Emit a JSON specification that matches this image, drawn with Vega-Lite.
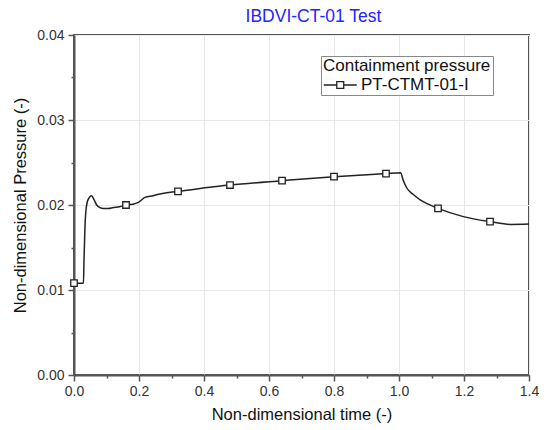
{
  "$schema": "https://vega.github.io/schema/vega-lite/v6.json",
  "width": 455,
  "height": 340,
  "autosize": "none",
  "padding": {"left": 74, "top": 35, "right": 18, "bottom": 55},
  "background": "white",
  "title": {"text": "IBDVI-CT-01 Test", "color": "#2424ff", "font": "Liberation Sans", "fontSize": 17.5, "fontWeight": "normal", "anchor": "middle", "offset": 3, "dx": 12},
  "config": {
    "view": {"stroke": "#555", "strokeWidth": 2},
    "axis": {"labelFont": "Liberation Sans", "titleFont": "Liberation Sans", "labelFontSize": 14, "titleFontSize": 16.5, "titleFontWeight": "normal", "labelColor": "#333", "titleColor": "#111", "domainColor": "#555", "domainWidth": 2, "tickColor": "#555", "tickWidth": 1.5, "gridColor": "#e8e8e8", "labelFlush": false}
  },
  "datasets": {
    "curve": [
      {"t": 0.0, "p": 0.0108}, {"t": 0.029, "p": 0.0108}, {"t": 0.0308, "p": 0.0135}, {"t": 0.0338, "p": 0.01745}, {"t": 0.0369, "p": 0.0194}, {"t": 0.043, "p": 0.0206}, {"t": 0.054, "p": 0.0211}, {"t": 0.062, "p": 0.0206}, {"t": 0.070, "p": 0.0200}, {"t": 0.080, "p": 0.0197}, {"t": 0.090, "p": 0.0196}, {"t": 0.105, "p": 0.0196}, {"t": 0.121, "p": 0.0197}, {"t": 0.14, "p": 0.0198}, {"t": 0.16, "p": 0.0200}, {"t": 0.18, "p": 0.0201}, {"t": 0.198, "p": 0.0203}, {"t": 0.208, "p": 0.0206}, {"t": 0.218, "p": 0.0209}, {"t": 0.244, "p": 0.0211}, {"t": 0.265, "p": 0.0213}, {"t": 0.32, "p": 0.0216}, {"t": 0.418, "p": 0.0221}, {"t": 0.48, "p": 0.02235}, {"t": 0.64, "p": 0.02286}, {"t": 0.80, "p": 0.02333}, {"t": 0.96, "p": 0.0237}, {"t": 1.005, "p": 0.0238}, {"t": 1.013, "p": 0.0229}, {"t": 1.024, "p": 0.0220}, {"t": 1.045, "p": 0.0212}, {"t": 1.065, "p": 0.0206}, {"t": 1.09, "p": 0.0201}, {"t": 1.12, "p": 0.0196}, {"t": 1.198, "p": 0.01863}, {"t": 1.28, "p": 0.01804}, {"t": 1.342, "p": 0.01772}, {"t": 1.40, "p": 0.01776}
    ],
    "markers": [
      {"t": 0.0, "p": 0.0108}, {"t": 0.16, "p": 0.0200}, {"t": 0.32, "p": 0.0216}, {"t": 0.48, "p": 0.02235}, {"t": 0.64, "p": 0.02286}, {"t": 0.80, "p": 0.02333}, {"t": 0.96, "p": 0.0237}, {"t": 1.12, "p": 0.0196}, {"t": 1.28, "p": 0.01804}
    ]
  },
  "encoding": {
    "x": {"field": "t", "type": "quantitative", "scale": {"domain": [0, 1.4], "nice": false},
      "axis": {"title": "Non-dimensional time (-)", "values": [0, 0.1, 0.2, 0.3, 0.4, 0.5, 0.6, 0.7, 0.8, 0.9, 1.0, 1.1, 1.2, 1.3, 1.4],
        "labelExpr": "abs(datum.value*10 % 2) < 0.01 || abs(datum.value*10 % 2 - 2) < 0.01 ? format(datum.value, '.1f') : ''",
        "tickSize": {"condition": {"test": "abs(datum.value*10 % 2) < 0.01 || abs(datum.value*10 % 2 - 2) < 0.01", "value": 6}, "value": 3},
        "gridOpacity": {"condition": {"test": "abs(datum.value*10 % 2) < 0.01 || abs(datum.value*10 % 2 - 2) < 0.01", "value": 1}, "value": 0},
        "labelPadding": 3, "titlePadding": 8}},
    "y": {"field": "p", "type": "quantitative", "scale": {"domain": [0, 0.04], "nice": false},
      "axis": {"title": "Non-dimensional Pressure (-)", "values": [0, 0.005, 0.01, 0.015, 0.02, 0.025, 0.03, 0.035, 0.04],
        "labelExpr": "abs(datum.value*200 % 2) < 0.01 || abs(datum.value*200 % 2 - 2) < 0.01 ? format(datum.value, '.2f') : ''",
        "tickSize": {"condition": {"test": "abs(datum.value*200 % 2) < 0.01 || abs(datum.value*200 % 2 - 2) < 0.01", "value": 6}, "value": 3},
        "gridOpacity": {"condition": {"test": "abs(datum.value*200 % 2) < 0.01 || abs(datum.value*200 % 2 - 2) < 0.01", "value": 1}, "value": 0},
        "labelPadding": 4, "titlePadding": 8}}
  },
  "layer": [
    {
      "data": {"name": "curve"},
      "transform": [{"calculate": "'PT-CTMT-01-I'", "as": "series"}],
      "mark": {"type": "line", "interpolate": "monotone", "strokeWidth": 1.5, "color": "#222"},
      "encoding": {
        "color": {"field": "series", "type": "nominal", "scale": {"range": ["#222"]},
          "legend": {"title": "Containment pressure", "orient": "none", "legendX": 247, "legendY": 21,
            "titleFont": "Liberation Sans", "titleFontSize": 17, "titleFontWeight": "normal", "titleColor": "#111", "titlePadding": 1, "titleLineHeight": 17,
            "labelFont": "Liberation Sans", "labelFontSize": 17, "labelColor": "#111", "labelOffset": 20,
            "symbolType": "M-1,0L0.58,0M1.42,0L3,0M0.58,-0.42L1.42,-0.42L1.42,0.42L0.58,0.42Z",
            "symbolSize": 272, "symbolStrokeWidth": 1.3, "symbolFillColor": "white", "symbolStrokeColor": "#222",
            "strokeColor": "#888", "fillColor": "white", "padding": 2, "cornerRadius": 0}}
      }
    },
    {
      "data": {"name": "markers"},
      "mark": {"type": "square", "size": 42, "filled": true, "fill": "white", "stroke": "#222", "strokeWidth": 1.3, "opacity": 1},
      "encoding": {}
    }
  ]
}
